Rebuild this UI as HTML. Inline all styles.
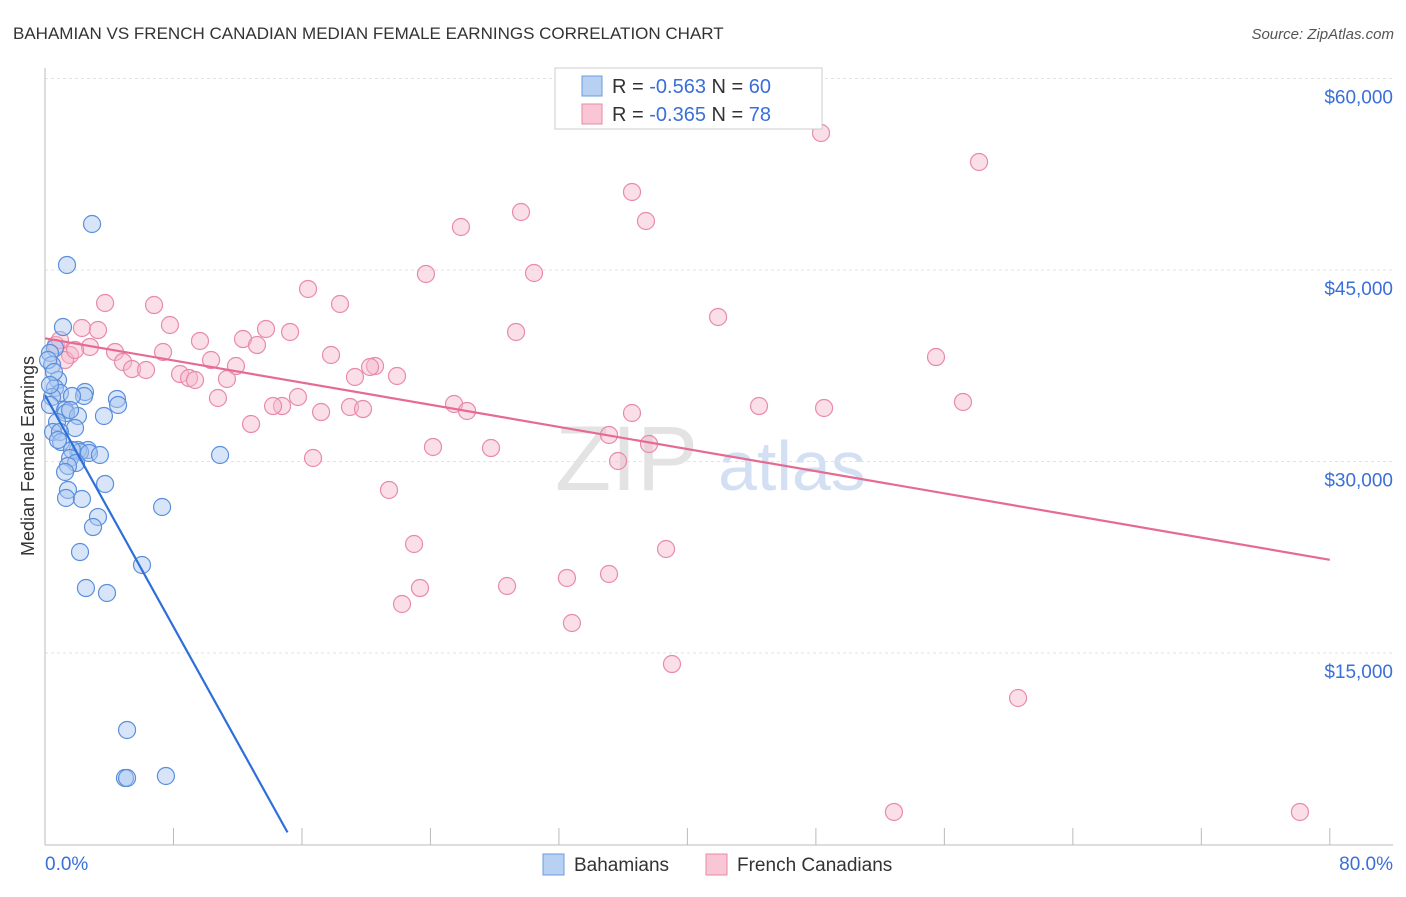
<!DOCTYPE html>
<html><head><meta charset="utf-8"><style>
body{margin:0;background:#fff;font-family:"Liberation Sans",sans-serif}
svg text{font-family:"Liberation Sans",sans-serif}
</style></head><body>
<svg id="chart" width="1406" height="892" xmlns="http://www.w3.org/2000/svg">
<text x="13" y="39" font-size="17" fill="#333">BAHAMIAN VS FRENCH CANADIAN MEDIAN FEMALE EARNINGS CORRELATION CHART</text>
<text x="1394" y="39" font-size="15" fill="#555" text-anchor="end" font-style="italic">Source: ZipAtlas.com</text>
<g><text x="555" y="490" font-size="92" fill="#ddd" font-family="Liberation Serif" opacity="0.8">ZIP</text><text x="718" y="490" font-size="70" fill="#c9d9f1" opacity="0.8">atlas</text></g>
<g id="grid"></g>
<g id="axes"></g>
<g id="pts"></g>
<text transform="translate(34,456) rotate(-90)" font-size="18" fill="#333" text-anchor="middle">Median Female Earnings</text>
<text x="45" y="870" font-size="19" fill="#3a6fd8">0.0%</text>
<text x="1393" y="870" font-size="19" fill="#3a6fd8" text-anchor="end">80.0%</text>
<g>
<rect x="555" y="68" width="267" height="61" fill="#fff" stroke="#ccc"/>
<rect x="582" y="76" width="20" height="20" fill="#b8d1f3" stroke="#6a9be0"/>
<rect x="582" y="104" width="20" height="20" fill="#f9c6d5" stroke="#e98aa8"/>
<text x="612" y="93" font-size="20" fill="#333">R = <tspan fill="#3a6fd8">-0.563</tspan>   N = <tspan fill="#3a6fd8">60</tspan></text>
<text x="612" y="121" font-size="20" fill="#333">R = <tspan fill="#3a6fd8">-0.365</tspan>   N = <tspan fill="#3a6fd8"> 78</tspan></text>
</g>
<g>
<rect x="543" y="854" width="21" height="21" fill="#b8d1f3" stroke="#6a9be0"/>
<text x="574" y="871" font-size="19" fill="#333">Bahamians</text>
<rect x="706" y="854" width="21" height="21" fill="#f9c6d5" stroke="#e98aa8"/>
<text x="737" y="871" font-size="19" fill="#333">French Canadians</text>
</g>
</svg>
<script>
const yTicks=[15000,30000,45000,60000];
const yTickLabels=["$15,000","$30,000","$45,000","$60,000"];
const xTicks=[0,8,16,24,32,40,48,56,64,72,80];
const bluePx=[[92,224],[67,265],[63,327],[55,348],[50,353],[52,365],[58,380],[55,388],[60,393],[85,392],[84,396],[52,397],[72,396],[117,399],[118,405],[50,405],[65,410],[66,413],[78,416],[104,416],[57,422],[75,428],[53,432],[60,432],[61,442],[88,450],[78,450],[80,452],[89,453],[72,450],[70,458],[76,463],[68,466],[65,472],[105,484],[68,490],[66,498],[82,499],[162,507],[98,517],[93,527],[80,552],[142,565],[86,588],[107,593],[220,455],[127,730],[125,778],[127,778],[166,776],[48,360],[54,372],[50,385],[70,410],[58,440],[100,455]];
const pinkPx=[[821,133],[979,162],[632,192],[521,212],[646,221],[461,227],[426,274],[534,273],[308,289],[105,303],[154,305],[340,304],[718,317],[170,325],[82,328],[98,330],[266,329],[290,332],[516,332],[243,339],[200,341],[257,345],[56,345],[90,347],[163,352],[115,352],[70,355],[331,355],[936,357],[211,360],[123,362],[236,366],[375,366],[370,367],[132,369],[146,370],[397,376],[180,374],[355,377],[189,378],[195,380],[227,379],[298,397],[218,398],[963,402],[282,406],[273,406],[454,404],[759,406],[824,408],[350,407],[363,409],[467,411],[321,412],[632,413],[251,424],[609,435],[433,447],[649,444],[491,448],[313,458],[618,461],[389,490],[414,544],[666,549],[567,578],[609,574],[507,586],[420,588],[402,604],[572,623],[672,664],[1018,698],[894,812],[1300,812],[60,340],[65,360],[75,350]];
// convert estimated positions to data values (x %, y $)
const blueX=bluePx.map(p=>+((p[0]-45)/16.06).toFixed(2));
const blueY=bluePx.map(p=>Math.round((844.5-p[1])/191.5*15000));
const pinkX=pinkPx.map(p=>+((p[0]-45)/16.06).toFixed(2));
const pinkY=pinkPx.map(p=>Math.round((844.5-p[1])/191.5*15000));
const blueTrend=[[0,35200],[15.1,950]];
const pinkTrend=[[0,39650],[80,22300]];
const X=v=>45+v*16.06, Y=v=>844.5-v/15000*191.5;
const NS="http://www.w3.org/2000/svg";
function mk(t,a,p){const e=document.createElementNS(NS,t);for(const k in a)e.setAttribute(k,a[k]);p.appendChild(e);return e;}
const grid=document.getElementById('grid'),axes=document.getElementById('axes'),pts=document.getElementById('pts');
yTicks.forEach((v,i)=>{const l=mk('line',{x1:45,x2:1393,y1:Y(v),y2:Y(v),stroke:'#e3e3e3','stroke-dasharray':'3,3'},grid);

const t=mk('text',{x:1393,y:Y(v)+25,'font-size':19,fill:'#3a6fd8','text-anchor':'end'},axes);t.textContent=yTickLabels[i];
});
const tl=mk('line',{x1:45,x2:1393,y1:Y(60000),y2:Y(60000),stroke:'#e3e3e3','stroke-dasharray':'3,3'},grid);

const ya=mk('line',{x1:45,x2:45,y1:68,y2:845,stroke:'#bbb'},axes);
const xa=mk('line',{x1:45,x2:1393,y1:845,y2:845,stroke:'#bbb'},axes);
xTicks.forEach(v=>{const l=mk('line',{x1:X(v),x2:X(v),y1:828,y2:845,stroke:'#bbb'},axes);});
function series(xs,ys,fill,stroke,name){xs.forEach((x,i)=>{const c=mk('circle',{cx:X(x),cy:Y(ys[i]),r:8.5,fill:fill,'fill-opacity':0.45,stroke:stroke,'stroke-width':1.2},pts);
});}
series(pinkX,pinkY,'#f4b8cb','#e98aa8','french-canadian-point');
series(blueX,blueY,'#a9c6ef','#5b8fdc','bahamian-point');
const bl=mk('line',{x1:X(blueTrend[0][0]),y1:Y(blueTrend[0][1]),x2:X(blueTrend[1][0]),y2:Y(blueTrend[1][1]),stroke:'#2d6fd9','stroke-width':2.2},pts);

const pl=mk('line',{x1:X(pinkTrend[0][0]),y1:Y(pinkTrend[0][1]),x2:X(pinkTrend[1][0]),y2:Y(pinkTrend[1][1]),stroke:'#e56b93','stroke-width':2.2},pts);

</script>
</body></html>
